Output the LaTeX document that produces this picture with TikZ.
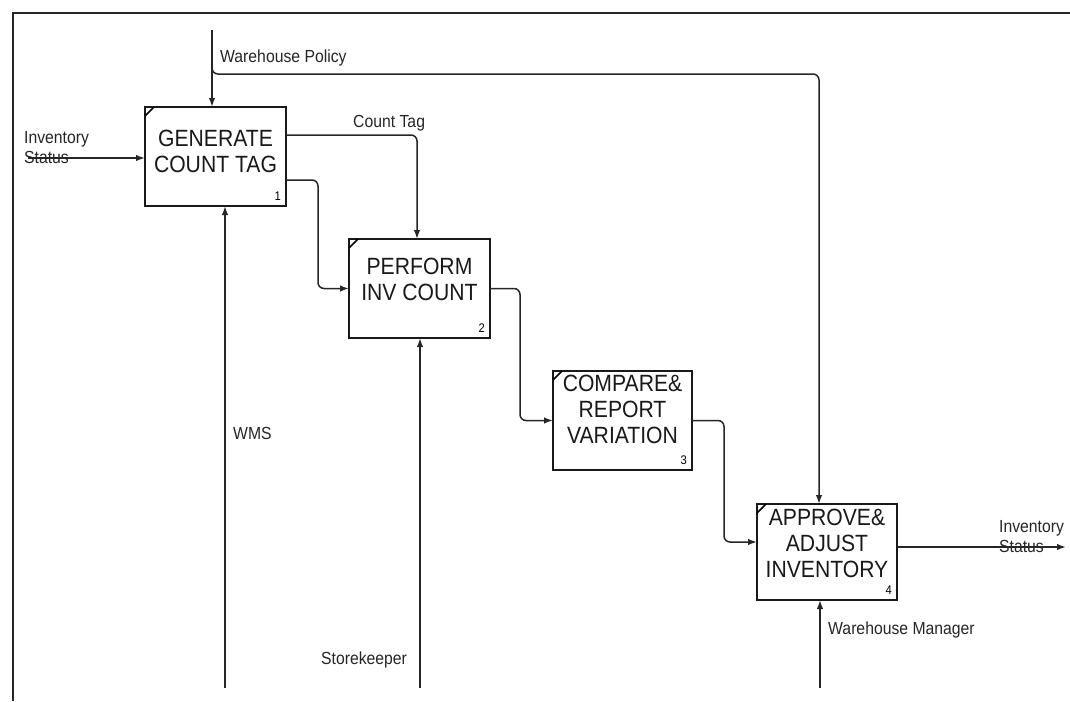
\documentclass[tikz,border=0pt]{standalone}
\usepackage{fontspec}
\setmainfont{Liberation Sans}
\newfontfamily\condfont[FakeStretch=0.9]{Liberation Sans}
\usetikzlibrary{arrows.meta}
\begin{document}
\begin{tikzpicture}[x=1pt,y=-1pt,
  box/.style={draw=black!90, line width=2.2pt, rectangle, inner sep=0pt, outer sep=0pt},
  boxtext/.style={align=center, font=\condfont\fontsize{23.5}{26}\selectfont, inner sep=0pt, text=black!90},
  lbl/.style={font=\condfont\fontsize{17.5}{20}\selectfont, inner sep=0pt, align=left, text=black!85},
  num/.style={font=\condfont\fontsize{12.5}{13}\selectfont, inner sep=0pt},
  conn/.style={draw=black!85, line width=1.5pt, rounded corners=6pt},
  arr/.style={conn, -{Latex[length=9pt,width=6.5pt]}},
  corner/.style={line width=1.5pt},
  frame/.style={draw=black!85, line width=1.8pt}
]
\useasboundingbox (0,0) rectangle (1070,701);
\fill[white] (0,0) rectangle (1070,701);
\draw[frame] (13,701) -- (13,13) -- (1070,13);

% boxes
\node[box, minimum width=141pt, minimum height=99pt] (b1) at (215.5,156.5) {};
\node[box, minimum width=141pt, minimum height=99pt] (b2) at (419.5,288.5) {};
\node[box, minimum width=139pt, minimum height=99pt] (b3) at (622.5,420.5) {};
\node[box, minimum width=140pt, minimum height=96pt] (b4) at (827,552) {};

\node[boxtext] (t1) at ([yshift=5pt]b1.center) {GENERATE\\COUNT TAG};
\node[boxtext] (t2) at ([yshift=9pt]b2.center) {PERFORM\\INV COUNT};
\node[boxtext] (t3) at ([yshift=11pt]b3.center) {COMPARE\&\\REPORT\\VARIATION};
\node[boxtext] (t4) at ([yshift=9pt]b4.center) {APPROVE\&\\ADJUST\\INVENTORY};

\foreach \b in {b1,b2,b3,b4}{
  \draw[corner] ([yshift=-9pt]\b.north west) -- ([xshift=9pt]\b.north west);
}
\node[num, anchor=south east] (n1) at ([xshift=-5pt,yshift=5pt]b1.south east) {1};
\node[num, anchor=south east] (n2) at ([xshift=-5pt,yshift=5pt]b2.south east) {2};
\node[num, anchor=south east] (n3) at ([xshift=-5pt,yshift=5pt]b3.south east) {3};
\node[num, anchor=south east] (n4) at ([xshift=-5pt,yshift=5pt]b4.south east) {4};

% free ends
\coordinate (wpTop) at (212,30);
\coordinate (wpSplit) at (212,60);
\coordinate (wpTurn) at (819,74);
\coordinate (isIn) at (28,158);
\coordinate (isOut) at (1066,547);
\coordinate (wms) at (225,688);
\coordinate (sk) at (420,688);
\coordinate (wm) at (820,688);

% connectors
\draw[arr] (wpTop) -- (wpTop |- b1.north);
\draw[arr] (wpSplit) |- (wpTurn) -- (wpTurn |- b4.north);
\draw[arr] (isIn) -- (isIn -| b1.west);
\draw[arr] ([yshift=21.5pt]b1.east) -| ([xshift=-2.5pt]b2.north);
\draw[arr] ([yshift=-23.5pt]b1.east) -- ++(32,0) |- (b2.west);
\draw[arr] (b2.east) -- ++(30,0) |- (b3.west);
\draw[arr] (b3.east) -- ++(32,0) |- ([yshift=10pt]b4.west);
\draw[arr] (b4.east |- isOut) -- (isOut);
\draw[arr] (wms) -- (wms |- b1.south);
\draw[arr] (sk) -- (sk |- b2.south);
\draw[arr] (wm) -- (wm |- b4.south);

% labels
\node[lbl, anchor=west] (lwp) at (220,58) {Warehouse Policy};
\node[lbl, anchor=west] (lct) at (353,123) {Count Tag};
\node[lbl, anchor=west] (lisIn) at (24,148) {Inventory\\Status};
\node[lbl, anchor=west] (lwms) at (233,433) {WMS};
\node[lbl, anchor=west] (lsk) at (321,660) {Storekeeper};
\node[lbl, anchor=west] (lwm) at (828,630) {Warehouse Manager};
\node[lbl, anchor=west] (lisOut) at (999,537) {Inventory\\Status};
\end{tikzpicture}
\end{document}
